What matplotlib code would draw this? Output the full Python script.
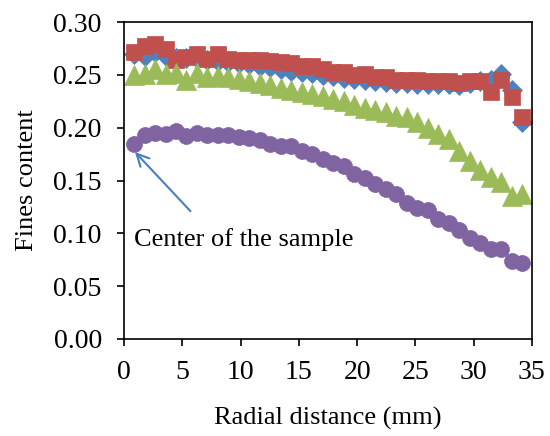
import matplotlib
matplotlib.use("Agg")
import matplotlib.pyplot as plt
import numpy as np

plt.rcParams['font.family'] = ['Liberation Serif', 'DejaVu Serif']

# radial positions (mm)
radial = [0.86, 1.76, 2.66, 3.56, 4.46, 5.36, 6.26, 7.16, 8.06, 8.96,
          9.86, 10.76, 11.66, 12.56, 13.46, 14.36, 15.26, 16.16, 17.06, 17.96,
          18.86, 19.76, 20.66, 21.56, 22.46, 23.36, 24.26, 25.16, 26.06, 26.96,
          27.86, 28.76, 29.66, 30.56, 31.46, 32.36, 33.26, 34.16]

blue = [0.270, 0.268, 0.272, 0.268, 0.266, 0.266, 0.266, 0.264, 0.263, 0.262,
        0.261, 0.260, 0.258, 0.257, 0.256, 0.254, 0.253, 0.252, 0.250, 0.249,
        0.247, 0.246, 0.245, 0.244, 0.243, 0.242, 0.242, 0.241, 0.241, 0.241,
        0.241, 0.240, 0.242, 0.244, 0.245, 0.251, 0.236, 0.205]

red = [0.272, 0.277, 0.279, 0.274, 0.264, 0.267, 0.270, 0.265, 0.270, 0.265,
       0.264, 0.264, 0.264, 0.263, 0.262, 0.261, 0.258, 0.258, 0.256, 0.253,
       0.253, 0.250, 0.251, 0.248, 0.248, 0.245, 0.245, 0.245, 0.244, 0.244,
       0.244, 0.242, 0.244, 0.244, 0.234, 0.245, 0.229, 0.210]

green = [0.250, 0.251, 0.256, 0.251, 0.252, 0.245, 0.252, 0.248, 0.249, 0.248,
         0.246, 0.244, 0.242, 0.240, 0.238, 0.236, 0.234, 0.232, 0.230, 0.227,
         0.225, 0.221, 0.219, 0.217, 0.215, 0.211, 0.210, 0.205, 0.200, 0.194,
         0.189, 0.178, 0.168, 0.160, 0.153, 0.149, 0.135, 0.137]

purple = [0.185, 0.193, 0.195, 0.194, 0.197, 0.192, 0.195, 0.193, 0.193, 0.193,
          0.191, 0.190, 0.188, 0.185, 0.183, 0.183, 0.178, 0.175, 0.170, 0.167,
          0.164, 0.156, 0.152, 0.147, 0.142, 0.137, 0.129, 0.124, 0.122, 0.114,
          0.110, 0.103, 0.096, 0.091, 0.085, 0.085, 0.074, 0.072]

xticks = [0, 5, 10, 15, 20, 25, 30, 35]
yticks = [0.00, 0.05, 0.10, 0.15, 0.20, 0.25, 0.30]

fig = plt.figure(figsize=(5.5, 4.36), dpi=100)
ax = fig.add_axes([0.2255, 0.2225, 0.7415, 0.7270])

ax.plot(radial, blue, linestyle='none', marker='D', ms=10.5, color='#4F81BD', mec='#4F81BD', mew=0.5)
ax.plot(radial, red, linestyle='none', marker='s', ms=11, color='#C0504D', mec='#C0504D', mew=0.5)
ax.plot(radial, green, linestyle='none', marker='^', ms=14.5, color='#9BBB59', mec='#9BBB59', mew=0.5)
ax.plot(radial, purple, linestyle='none', marker='o', ms=11.5, color='#8064A2', mec='#8064A2', mew=0.5)

ax.set_xlim(0, 35)
ax.set_ylim(0, 0.30)
ax.set_xticks(xticks)
ax.set_yticks(yticks)
ax.set_xticklabels([str(t) for t in xticks])
ax.set_yticklabels([f"{t:.2f}" for t in yticks])
ax.tick_params(axis='both', direction='out', length=5, width=1.2, labelsize=20,
               top=False, right=False)
ax.tick_params(axis='x', pad=10)
ax.tick_params(axis='y', pad=11)
for s in ax.spines.values():
    s.set_linewidth(1.2)
    s.set_color('black')

ax.set_xlabel('Radial distance (mm)', fontsize=19, labelpad=16)
ax.set_ylabel('Fines content', fontsize=19, labelpad=11)

ax.annotate('', xy=(0.94, 0.177), xytext=(5.7, 0.121),
            arrowprops=dict(arrowstyle='->', color='#4A7EBB', lw=1.5, mutation_scale=22,
                            shrinkA=0, shrinkB=0))
ax.text(0.86, 0.094, 'Center of the sample', fontsize=19, ha='left', va='center')

fig.savefig('out.png', dpi=100)
